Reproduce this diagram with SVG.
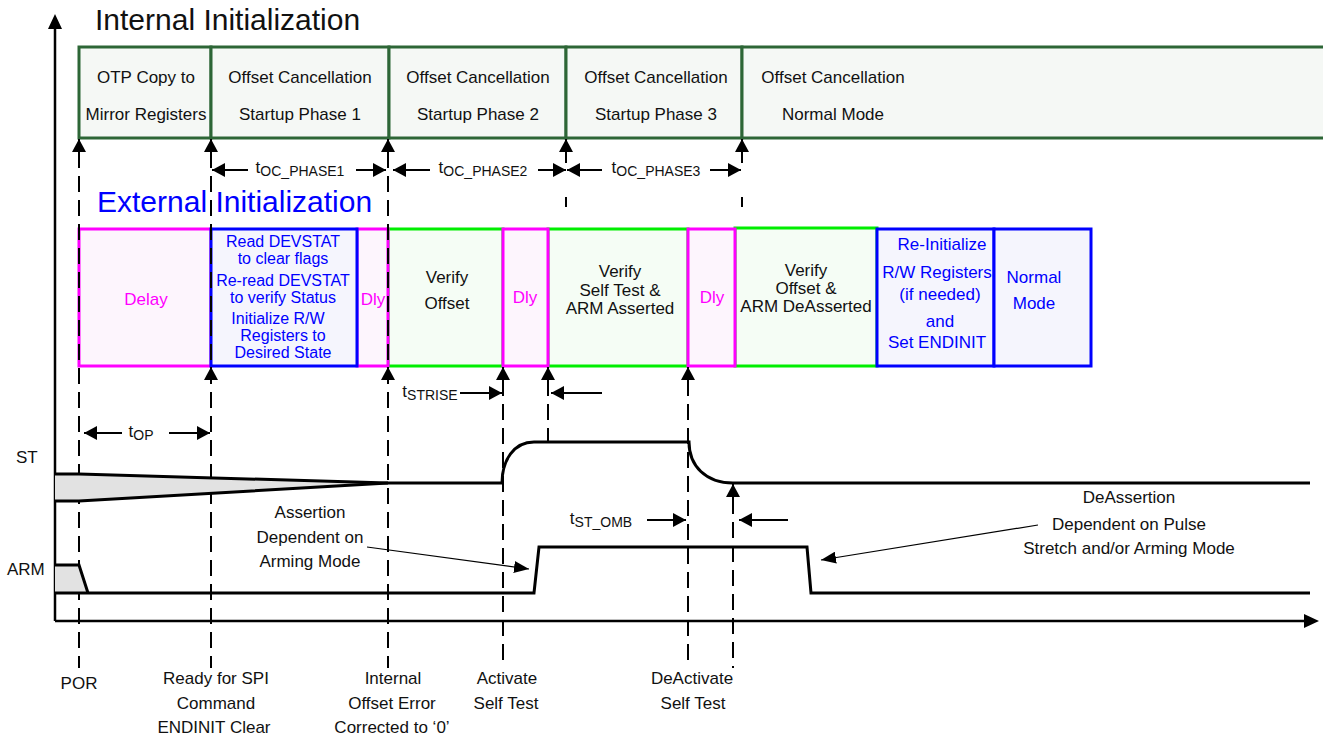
<svg xmlns="http://www.w3.org/2000/svg" width="1323" height="740" viewBox="0 0 1323 740">
<defs>
<marker id="ah" markerUnits="userSpaceOnUse" markerWidth="14" markerHeight="14" refX="13" refY="7" orient="auto" viewBox="0 0 14 14"><path d="M0,0 L13,7 L0,14 z" fill="#000"/></marker>
<marker id="ahs" markerUnits="userSpaceOnUse" markerWidth="15" markerHeight="12" refX="15" refY="6" orient="auto" viewBox="0 0 15 12"><path d="M0,0 L15,6 L0,12 z" fill="#000"/></marker>
</defs>
<style>
text{font-family:"Liberation Sans",Arial,Helvetica,sans-serif;font-size:17px;fill:#111}
.c{text-anchor:middle}
.title{font-size:30px}
.sub{font-size:14px}
.tight{font-size:16px}
.ib{fill:#f5f8f5;stroke:#2d6636;stroke-width:3}
.mg{fill:#fdf5fd;stroke:#ff00ff;stroke-width:3}
.gr{fill:#f5fdf5;stroke:#00ee00;stroke-width:3}
.bl{fill:#f5f5fd;stroke:#0000ff;stroke-width:3}
.mt{fill:#ff00ff}
.bt{fill:#0000ff}
.dash{stroke:#000;stroke-width:2;stroke-dasharray:16 8;fill:none}
.ar{stroke:#000;stroke-width:2;fill:none;marker-end:url(#ah)}
.thin{stroke:#000;stroke-width:1.2;fill:none;marker-end:url(#ahs)}
.sig{stroke:#000;stroke-width:3;fill:none}
.ax{stroke:#000;stroke-width:2.5;fill:none}
.wedge{fill:#e2e2e2;stroke:none}
</style>
<rect width="1323" height="740" fill="#fff"/>

<g id="axes">
<line class="ax" x1="55" y1="621" x2="55" y2="26"/>
<polygon points="55,14 48,29 62,29" fill="#000"/>
<line class="ax" x1="55" y1="621" x2="1305" y2="621"/>
<polygon points="1319,621 1304,614 1304,628" fill="#000"/>
</g>

<text id="title-internal" class="title" x="95" y="30">Internal Initialization</text>
<text id="title-external" class="title" x="97" y="212" style="fill:#0000ff">External Initialization</text>

<g id="internal">
<g id="int-otp"><rect class="ib" x="79" y="47" width="132" height="91"/><text class="c" x="146" y="83">OTP Copy to</text><text class="c" x="146" y="120">Mirror Registers</text></g>
<g id="int-ph1"><rect class="ib" x="211" y="47" width="178" height="91"/><text class="c" x="300" y="83">Offset Cancellation</text><text class="c" x="300" y="120">Startup Phase 1</text></g>
<g id="int-ph2"><rect class="ib" x="389" y="47" width="177" height="91"/><text class="c" x="478" y="83">Offset Cancellation</text><text class="c" x="478" y="120">Startup Phase 2</text></g>
<g id="int-ph3"><rect class="ib" x="566" y="47" width="176" height="91"/><text class="c" x="656" y="83">Offset Cancellation</text><text class="c" x="656" y="120">Startup Phase 3</text></g>
<g id="int-normal"><rect class="ib" x="742" y="47" width="600" height="91"/><text class="c" x="833" y="83">Offset Cancellation</text><text class="c" x="833" y="120">Normal Mode</text></g>
</g>

<g id="external">
<g id="ext-verify-offset"><rect class="gr" x="388" y="229" width="115" height="137"/><text class="c" x="447" y="283">Verify</text><text class="c" x="447" y="309">Offset</text></g>
<g id="ext-verify-st"><rect class="gr" x="548" y="229" width="140" height="137"/><text class="c" x="620" y="277">Verify</text><text class="c" x="620" y="296">Self Test &amp;</text><text class="c" x="620" y="314">ARM Asserted</text></g>
<g id="ext-verify-deassert"><rect class="gr" x="735" y="228" width="142" height="138"/><text class="c" x="806" y="276">Verify</text><text class="c" x="806" y="294">Offset &amp;</text><text class="c" x="806" y="312">ARM DeAsserted</text></g>
<g id="ext-delay"><rect class="mg" x="79" y="229" width="132" height="137"/><text class="c mt" x="146" y="305">Delay</text></g>
<g id="ext-dly1"><rect class="mg" x="357" y="229" width="31" height="137"/><text class="c mt" x="373" y="305">Dly</text></g>
<g id="ext-dly2"><rect class="mg" x="503" y="229" width="45" height="137"/><text class="c mt" x="525" y="303">Dly</text></g>
<g id="ext-dly3"><rect class="mg" x="688" y="229" width="47" height="137"/><text class="c mt" x="712" y="303">Dly</text></g>
<g id="ext-read"><rect class="bl" x="211" y="229" width="146" height="137"/>
<text class="c bt tight" x="283" y="247">Read DEVSTAT</text><text class="c bt tight" x="283" y="264">to clear flags</text>
<text class="c bt tight" x="283" y="286">Re-read DEVSTAT</text><text class="c bt tight" x="283" y="303">to verify Status</text>
<text class="c bt tight" x="278" y="324">Initialize R/W</text><text class="c bt tight" x="283" y="341">Registers to</text><text class="c bt tight" x="283" y="358">Desired State</text></g>
<g id="ext-reinit"><rect class="bl" x="877" y="229" width="117" height="137"/>
<text class="c bt" x="942" y="250">Re-Initialize</text><text class="c bt" x="937" y="278">R/W Registers</text><text class="c bt" x="940" y="300">(if needed)</text><text class="c bt" x="940" y="327">and</text><text class="c bt" x="937" y="348">Set ENDINIT</text></g>
<g id="ext-normal"><rect class="bl" x="994" y="229" width="97" height="137"/><text class="c bt" x="1034" y="283">Normal</text><text class="c bt" x="1034" y="309">Mode</text></g>
</g>

<g id="connectors">
<line class="dash" x1="79" y1="152" x2="79" y2="668"/>
<line class="ar" x1="79" y1="160" x2="79" y2="139"/>
<line class="dash" x1="211" y1="152" x2="211" y2="668"/>
<line class="ar" x1="211" y1="160" x2="211" y2="139"/>
<line class="ar" x1="211" y1="382" x2="211" y2="367"/>
<line class="dash" x1="388" y1="152" x2="388" y2="668"/>
<line class="ar" x1="388" y1="160" x2="388" y2="139"/>
<line class="ar" x1="388" y1="382" x2="388" y2="367"/>
<line class="dash" x1="503" y1="380" x2="503" y2="668"/>
<line class="ar" x1="503" y1="382" x2="503" y2="367"/>
<line class="dash" x1="548" y1="380" x2="548" y2="442"/>
<line class="ar" x1="548" y1="382" x2="548" y2="367"/>
<line class="ar" x1="566" y1="163" x2="566" y2="139"/>
<line x1="566" y1="197" x2="566" y2="207" stroke="#000" stroke-width="2"/>
<line class="ar" x1="742" y1="163" x2="742" y2="139"/>
<line x1="742" y1="197" x2="742" y2="207" stroke="#000" stroke-width="2"/>
<line class="dash" x1="688" y1="380" x2="688" y2="668"/>
<line class="ar" x1="688" y1="382" x2="688" y2="367"/>
<line class="dash" x1="733" y1="498" x2="733" y2="668"/>
<line class="ar" x1="733" y1="500" x2="733" y2="484"/>
<line class="ar" x1="248" y1="170" x2="212" y2="170"/>
<line class="ar" x1="356" y1="170" x2="386" y2="170"/>
<line class="ar" x1="430" y1="170" x2="393" y2="170"/>
<line class="ar" x1="538" y1="170" x2="566" y2="170"/>
<line class="ar" x1="602" y1="170" x2="567" y2="170"/>
<line class="ar" x1="710" y1="170" x2="741" y2="170"/>
<line class="ar" x1="460" y1="393" x2="502" y2="393"/>
<line class="ar" x1="602" y1="393" x2="551" y2="393"/>
<line class="ar" x1="122" y1="433" x2="84" y2="433"/>
<line class="ar" x1="169" y1="433" x2="210" y2="433"/>
<line class="ar" x1="647" y1="520" x2="686" y2="520"/>
<line class="ar" x1="788" y1="520" x2="739" y2="520"/>
<line class="thin" x1="367" y1="547" x2="529" y2="569"/>
<line class="thin" x1="1038" y1="525" x2="821" y2="560"/>
</g>

<g id="timing-labels">
<text class="c" x="300" y="173">t<tspan class="sub" dy="3">OC_PHASE1</tspan></text>
<text class="c" x="483" y="173">t<tspan class="sub" dy="3">OC_PHASE2</tspan></text>
<text class="c" x="656" y="173">t<tspan class="sub" dy="3">OC_PHASE3</tspan></text>
<text class="c" x="430" y="397">t<tspan class="sub" dy="3">STRISE</tspan></text>
<text class="c" x="141" y="437">t<tspan class="sub" dy="3">OP</tspan></text>
<text class="c" x="601" y="524">t<tspan class="sub" dy="3">ST_OMB</tspan></text>
</g>

<g id="signals">
<text x="16" y="463">ST</text>
<text x="7" y="575">ARM</text>
<polygon class="wedge" points="55,474 79,474 388,483 79,501 55,501"/>
<polyline class="sig" points="55,474 79,474 388,483"/>
<polyline class="sig" points="55,501 79,501 388,483"/>
<path class="sig" d="M388,483 H502 C502,460 514,442 534,442 H689 C689,466 706,483 733,483 H1310"/>
<polygon points="55,565 79,565 88,593 55,593" fill="#e2e2e2"/>
<polyline class="sig" points="55,565 79,565 88,593"/>
<path class="sig" d="M55,593 H534 L539,547 H807 L811,593 H1310"/>
</g>

<g id="annotations">
<text class="c" x="310" y="518">Assertion</text>
<text class="c" x="310" y="543">Dependent on</text>
<text class="c" x="310" y="567">Arming Mode</text>
<text class="c" x="1129" y="503">DeAssertion</text>
<text class="c" x="1129" y="530">Dependent on Pulse</text>
<text class="c" x="1129" y="554">Stretch and/or Arming Mode</text>
</g>

<g id="event-labels">
<text class="c" x="79" y="689">POR</text>
<text class="c" x="216" y="684">Ready for SPI</text>
<text class="c" x="216" y="709">Command</text>
<text class="c" x="214" y="733">ENDINIT Clear</text>
<text class="c" x="393" y="684">Internal</text>
<text class="c" x="392" y="709">Offset Error</text>
<text class="c" x="392" y="733">Corrected to ‘0’</text>
<text class="c" x="507" y="684">Activate</text>
<text class="c" x="506" y="709">Self Test</text>
<text class="c" x="692" y="684">DeActivate</text>
<text class="c" x="693" y="709">Self Test</text>
</g>
</svg>
